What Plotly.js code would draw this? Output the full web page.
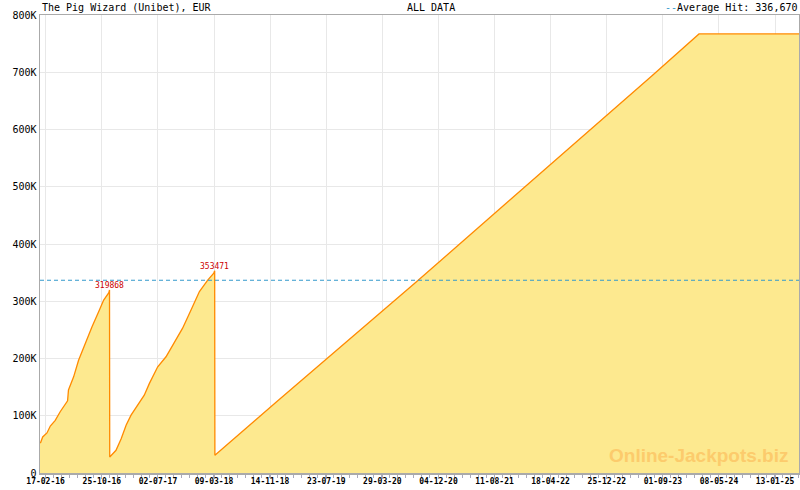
<!DOCTYPE html>
<html>
<head>
<meta charset="utf-8">
<script src="https://cdn.plot.ly/plotly-3.0.1.min.js"></script>
<style>html,body{margin:0;padding:0;background:#fff;}#chart{width:800px;height:490px;}</style>
</head>
<body>
<div id="chart"></div>
<script>
// Jackpot history (date, amount EUR)
var dates = [
  '2016-01-23','2016-01-25','2016-02-04','2016-02-23','2016-03-09','2016-03-31','2016-04-22',
  '2016-05-15','2016-05-25','2016-05-29','2016-06-21','2016-07-13','2016-08-12','2016-09-11',
  '2016-10-11','2016-11-02','2016-11-25','2016-11-28',
  '2016-11-29','2016-12-27','2017-01-19','2017-02-10','2017-03-04','2017-04-02','2017-05-02',
  '2017-05-25','2017-07-01','2017-08-07','2017-09-13','2017-10-20','2017-11-27','2018-01-03',
  '2018-02-09','2018-03-08','2018-03-12',
  '2018-03-13','2018-12-12','2020-08-28','2023-07-12','2024-02-09','2025-04-30'
];
var amounts = [
  54000,52500,63000,70000,82000,92000,107000,
  121500,126000,145000,168000,197000,226500,255500,
  282000,302000,315000,319868,
  28000,39700,60000,83500,101000,118500,136000,
  156500,185500,203000,229000,253000,285000,317000,
  337000,349000,353471,
  31000,124000,334000,693000,767000,767000
];
var averageHit = 336670;
var peakDates = ['2016-11-28','2018-03-12'];
var peakValues = [319868,353471];
var tickDates = ['2016-02-17','2016-10-25','2017-07-02','2018-03-09','2018-11-14','2019-07-23',
  '2020-03-29','2020-12-04','2021-08-11','2022-04-18','2022-12-25','2023-09-01','2024-05-08','2025-01-13'];
var tickLabels = ['17-02-16','25-10-16','02-07-17','09-03-18','14-11-18','23-07-19',
  '29-03-20','04-12-20','11-08-21','18-04-22','25-12-22','01-09-23','08-05-24','13-01-25'];
var yTickVals = [0,100000,200000,300000,400000,500000,600000,700000,800000];
var yTickLabels = ['0','100K','200K','300K','400K','500K','600K','700K','800K'];

var mono = 'DejaVu Sans Mono, monospace';

var traces = [{
  x: dates, y: amounts, type: 'scatter', mode: 'lines',
  fill: 'tozeroy', fillcolor: '#fde98f',
  line: {color: '#ff8a00', width: 1.3},
  hoverinfo: 'skip'
}];

var annotations = [
  {xref:'paper', yref:'paper', x:0, y:1, xanchor:'left', yanchor:'bottom', yshift:0,
   text:'The Pig Wizard (Unibet), EUR', showarrow:false, font:{family:mono, size:10, color:'#000'}},
  {xref:'paper', yref:'paper', x:0.481, y:1, xanchor:'left', yanchor:'bottom',
   text:'ALL DATA', showarrow:false, font:{family:mono, size:10, color:'#000'}},
  {xref:'paper', yref:'paper', x:1, y:1, xanchor:'right', yanchor:'bottom',
   text:'<span style="color:#3399cc">--</span>Average Hit: 336,670', showarrow:false,
   font:{family:mono, size:10, color:'#000'}},
  {xref:'paper', yref:'paper', x:0.988, y:0.01, xanchor:'right', yanchor:'bottom',
   text:'<b>Online-Jackpots.biz</b>', showarrow:false,
   font:{family:'Liberation Sans, Arial, sans-serif', size:19, color:'#fccb6c'}}
];
for (var i = 0; i < peakDates.length; i++) {
  annotations.push({x: peakDates[i], y: peakValues[i], xref:'x', yref:'y',
    text: String(peakValues[i]), showarrow:false, yanchor:'middle', yshift:4,
    font:{family:mono, size:8, color:'#cc0000'}});
}

var layout = {
  width: 800, height: 490,
  margin: {l: 40, r: 1, t: 15, b: 17, pad: 0},
  paper_bgcolor: '#fff', plot_bgcolor: '#fff',
  showlegend: false,
  xaxis: {
    type: 'date', range: ['2016-01-23','2025-04-30'],
    tickmode: 'array', tickvals: tickDates, ticktext: tickLabels,
    tickfont: {family: mono, size: 8, color: '#000', weight: 'bold'},
    ticks: 'outside', ticklen: 4, tickcolor: '#aab', tickwidth: 1,
    ticklabelstandoff: -4,
    showgrid: true, gridcolor: '#e8e8e8', gridwidth: 1,
    showline: true, linecolor: '#aaa', linewidth: 1.5, mirror: true,
    zeroline: false,
    minor: {tickmode:'linear', tick0:'2016-02-17', dtick: 250/7*86400000, ticks:'outside', ticklen:3, tickcolor:'#aab', showgrid:false}
  },
  yaxis: {
    range: [0, 800000], tickmode: 'array', tickvals: yTickVals, ticktext: yTickLabels,
    tickfont: {family: mono, size: 10, color: '#000'},
    ticks: '', showgrid: true, gridcolor: '#e8e8e8', gridwidth: 1,
    showline: true, linecolor: '#aaa', linewidth: 1.5, mirror: true,
    zeroline: false
  },
  shapes: [{type:'line', xref:'paper', x0:0, x1:1, yref:'y', y0:averageHit, y1:averageHit,
    line:{color:'#3399cc', width:1, dash:'4px,3px'}}],
  annotations: annotations
};

Plotly.newPlot('chart', traces, layout, {staticPlot: true, displayModeBar: false});
</script>
</body>
</html>
